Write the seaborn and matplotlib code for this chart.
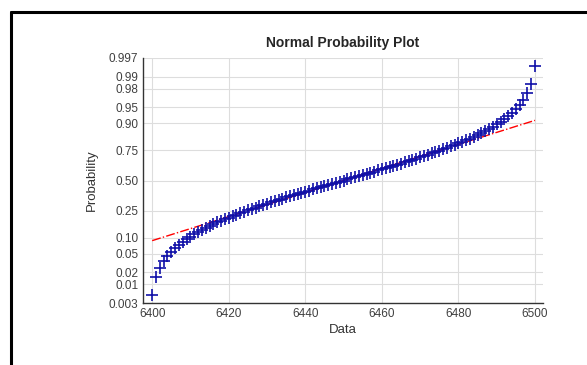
import matplotlib
matplotlib.use('Agg')
import matplotlib.pyplot as plt
import seaborn as sns
import numpy as np
import pandas as pd
from statistics import NormalDist
from matplotlib.lines import Line2D

# ── Data: one sample per unit from 6400 to 6500 ────────────────────────────
data = [
    6400, 6401, 6402, 6403, 6404, 6405, 6406, 6407, 6408, 6409,
    6410, 6411, 6412, 6413, 6414, 6415, 6416, 6417, 6418, 6419,
    6420, 6421, 6422, 6423, 6424, 6425, 6426, 6427, 6428, 6429,
    6430, 6431, 6432, 6433, 6434, 6435, 6436, 6437, 6438, 6439,
    6440, 6441, 6442, 6443, 6444, 6445, 6446, 6447, 6448, 6449,
    6450, 6451, 6452, 6453, 6454, 6455, 6456, 6457, 6458, 6459,
    6460, 6461, 6462, 6463, 6464, 6465, 6466, 6467, 6468, 6469,
    6470, 6471, 6472, 6473, 6474, 6475, 6476, 6477, 6478, 6479,
    6480, 6481, 6482, 6483, 6484, 6485, 6486, 6487, 6488, 6489,
    6490, 6491, 6492, 6493, 6494, 6495, 6496, 6497, 6498, 6499,
    6500,
]
prob_ticks = [0.003, 0.01, 0.02, 0.05, 0.10, 0.25, 0.50, 0.75, 0.90, 0.95, 0.98, 0.99, 0.997]
prob_labels = ['0.003', '0.01', '0.02', '0.05', '0.10', '0.25', '0.50', '0.75',
               '0.90', '0.95', '0.98', '0.99', '0.997']
x_ticks = [6400, 6420, 6440, 6460, 6480, 6500]

nd = NormalDist()
ppf = np.vectorize(nd.inv_cdf)

# normplot plotting positions on the probit scale
x = np.sort(np.array(data, dtype=float))
n = len(x)
p = (np.arange(1, n + 1) - 0.5) / n
df = pd.DataFrame({'Data': x, 'z': ppf(p)})

# reference line through the 1st and 3rd quartiles
q1, q3 = np.percentile(x, [25, 75])
z1, z3 = nd.inv_cdf(0.25), nd.inv_cdf(0.75)
slope = (z3 - z1) / (q3 - q1)
line_z = lambda v: z1 + slope * (np.asarray(v) - q1)

sns.set_style("white")
plt.rcParams['font.family'] = ['Liberation Sans', 'DejaVu Sans']

fig = plt.figure(figsize=(5.87, 3.65), dpi=100)
ax = fig.add_axes([143 / 587, 1 - 303 / 365, 400 / 587, 245 / 365])

# outer frame of the screenshot
fig.add_artist(Line2D([11 / 587, 11 / 587], [0, 1 - 12 / 365], color='black', lw=2.2,
                      transform=fig.transFigure))
fig.add_artist(Line2D([11 / 587, 1], [1 - 12 / 365, 1 - 12 / 365], color='black', lw=2.2,
                      transform=fig.transFigure))

ends_lo = np.array([x.min(), q1])
ends_hi = np.array([q3, x.max()])
mid = np.array([q1, q3])
ax.plot(ends_lo, line_z(ends_lo), color='red', ls='-.', lw=1.0, zorder=2)
ax.plot(ends_hi, line_z(ends_hi), color='red', ls='-.', lw=1.0, zorder=2)
ax.plot(mid, line_z(mid), color='red', ls='-', lw=1.0, zorder=2)

sns.scatterplot(data=df, x='Data', y='z', marker='+', s=65, color='#1010a8',
                linewidth=1.2, ax=ax, zorder=3)

ax.set_xlim(6397.6, 6502.1)
ax.set_ylim(nd.inv_cdf(0.003), nd.inv_cdf(0.997))
ax.set_xticks(x_ticks)
ax.set_xticklabels([str(t) for t in x_ticks])
ax.set_yticks(ppf(prob_ticks))
ax.set_yticklabels(prob_labels)

ax.grid(True, color='#dddddd', lw=0.8)
ax.set_axisbelow(True)
for side in ['top', 'right']:
    ax.spines[side].set_visible(False)
for side in ['left', 'bottom']:
    ax.spines[side].set_color('#333333')
    ax.spines[side].set_linewidth(1.0)
ax.tick_params(direction='in', length=3, width=0.8, colors='#333333',
               labelsize=8.5, labelcolor='#404040')

ax.set_xlabel('Data', fontsize=9.5, color='#333333', labelpad=3)
ax.set_ylabel('Probability', fontsize=9.5, color='#333333', labelpad=8)
ax.set_title('Normal Probability Plot', fontsize=10, fontweight='bold', pad=8)

fig.savefig('out.png', dpi=100, facecolor='white')
